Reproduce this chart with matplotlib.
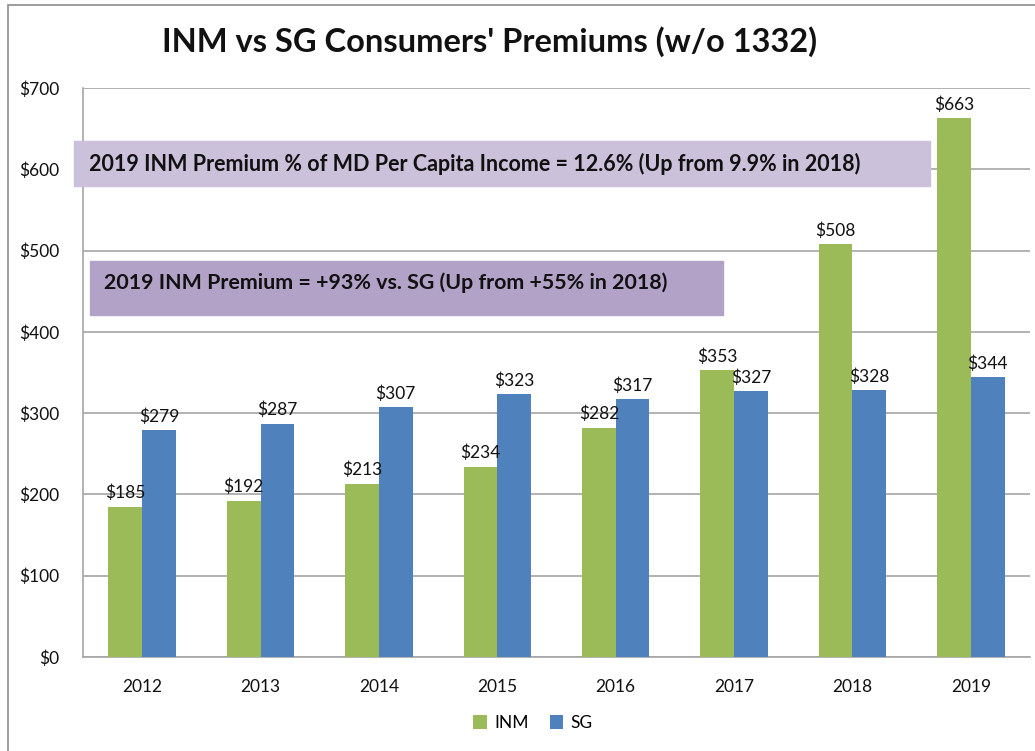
import matplotlib
matplotlib.use("Agg")
import matplotlib.pyplot as plt
import numpy as np
from matplotlib.patches import Rectangle

years = ["2012", "2013", "2014", "2015", "2016", "2017", "2018", "2019"]
inm = [185, 192, 213, 234, 282, 353, 508, 663]
sg = [279, 287, 307, 323, 317, 327, 328, 344]

title = "INM vs SG Consumers' Premiums (w/o 1332)"
note_top = "2019 INM Premium % of MD Per Capita Income = 12.6% (Up from 9.9% in 2018)"
note_mid = "2019 INM Premium = +93% vs. SG (Up from +55% in 2018)"

GREEN = "#9BBB59"
BLUE = "#4F81BD"
GRID = "#A6A6A6"

plt.rcParams["font.family"] = ["Lato", "DejaVu Sans"]

W, H = 1035, 751
fig = plt.figure(figsize=(W / 100, H / 100), dpi=100)
ax = fig.add_axes([83 / W, 1 - 657 / H, (1030 - 83) / W, (657 - 88) / H])

x = np.arange(len(years))
bw = 0.285
b1 = ax.bar(x - bw / 2, inm, bw, color=GREEN, label="INM", zorder=3)
b2 = ax.bar(x + bw / 2, sg, bw, color=BLUE, label="SG", zorder=3)

for bars, vals in ((b1, inm), (b2, sg)):
    for rect, v in zip(bars, vals):
        ax.annotate(f"${v}", (rect.get_x() + rect.get_width() / 2, v),
                    xytext=(0, 4), textcoords="offset points",
                    ha="center", va="bottom", fontsize=12.5, color="#111")

ax.set_xlim(-0.5, len(years) - 0.5)
ax.set_ylim(0, 700)
ax.set_yticks(range(0, 701, 100))
ax.set_yticklabels([f"${v}" for v in range(0, 701, 100)])
ax.set_xticks(x)
ax.set_xticklabels(years)
ax.tick_params(axis="both", length=0, labelsize=12.5, colors="#111")
ax.tick_params(axis="x", pad=16)
ax.tick_params(axis="y", pad=17)
ax.yaxis.grid(True, color=GRID, lw=1.2, zorder=0)
for s in ("top", "right"):
    ax.spines[s].set_visible(False)
for s in ("left", "bottom"):
    ax.spines[s].set_color(GRID)
    ax.spines[s].set_linewidth(1.2)

# annotation boxes
fig.patches.append(Rectangle((74 / W, 1 - 186 / H), (930 - 74) / W, 45 / H,
                             transform=fig.transFigure, color="#CCC1DA", zorder=5))
fig.text(89 / W, 1 - 164 / H, note_top, fontsize=15.5, fontweight="bold",
         va="center", ha="left", color="#111", zorder=6)
fig.patches.append(Rectangle((90 / W, 1 - 315 / H), (723 - 90) / W, 54 / H,
                             transform=fig.transFigure, color="#B3A2C7", zorder=5))
fig.text(104 / W, 1 - 283 / H, note_mid, fontsize=15.4, fontweight="bold",
         va="center", ha="left", color="#111", zorder=6)

fig.text(490 / W, 1 - 42 / H, title, fontsize=23.5, fontweight="bold",
         ha="center", va="center", color="#111")

fig.legend(handles=[b1, b2], loc="center", bbox_to_anchor=(533 / W, 1 - 723 / H),
           ncol=2, frameon=False, fontsize=12.5, handlelength=0.8, handleheight=0.8,
           handletextpad=0.4, columnspacing=1.2)

# outer chart border
fig.patches.append(Rectangle((8 / W, -0.05), 1.1, 1 - 5 / H + 0.05,
                             transform=fig.transFigure, fill=False,
                             edgecolor="#8C8C8C", lw=1.2))

fig.savefig("out.png", dpi=100)
